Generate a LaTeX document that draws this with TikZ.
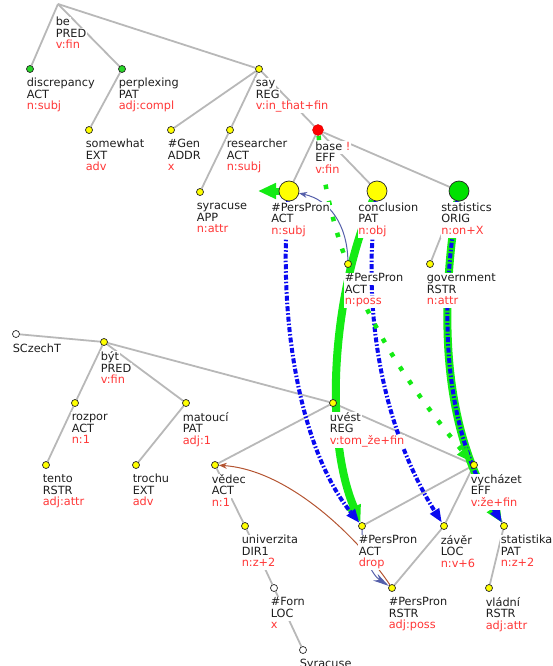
\documentclass[tikz,border=0pt]{standalone}
\usepackage{fontspec}
\setmainfont{DejaVu Sans}
\usetikzlibrary{arrows.meta}

\definecolor{edgegray}{RGB}{184,184,184}
\definecolor{txt}{RGB}{30,30,30}
\definecolor{lred}{RGB}{255,55,55}
\definecolor{nyellow}{RGB}{255,255,0}
\definecolor{ngreen}{RGB}{40,215,40}
\definecolor{bgreen}{RGB}{0,225,0}
\definecolor{agreen}{RGB}{20,235,20}
\definecolor{ablue}{RGB}{10,10,240}
\definecolor{coref}{RGB}{85,95,170}
\definecolor{corefb}{RGB}{180,85,50}

\pgfdeclarelayer{edges}
\pgfdeclarelayer{arrows}
\pgfdeclarelayer{labels}
\pgfsetlayers{edges,arrows,labels,main}

% label font: fixed line pitch, strips may touch
\newcommand\lblfont{\fontsize{11.3}{11.5}\selectfont
  \setlength\lineskiplimit{-20pt}\setlength\lineskip{0pt}}

% one label line on a white strip
\setlength\fboxsep{0.6pt}
\newcommand\tline[1]{\colorbox{white}{\rule[-0.24em]{0pt}{1em}#1}}

% tree node: style, name, position, label offset, lemma, functor, formeme
\newcommand\tnode[7]{%
  \node[#1] (#2) at #3 {};
  \begin{pgfonlayer}{labels}
    \node[lbl] (#2-l) at ([shift={#4}]#2.center)
      {\tline{#5}\\\tline{#6}\\\tline{\textcolor{lred}{#7}}};
  \end{pgfonlayer}}

\tikzset{
  lbl/.style={anchor=north west, inner sep=0pt, align=left,
    font=\lblfont, text=txt},
  dotn/.style={circle, draw=black!85, line width=0.7pt, inner sep=0pt, minimum size=7pt},
  sy/.style={dotn, fill=nyellow},
  sg/.style={dotn, fill=ngreen},
  sw/.style={dotn, fill=white},
  by/.style={dotn, fill=nyellow, minimum size=20pt},
  bg/.style={dotn, fill=bgreen, minimum size=20pt},
  rb/.style={circle, fill=red, draw=red!85!black, line width=0.4pt, inner sep=0pt, minimum size=11pt},
  tedge/.style={draw=edgegray, line width=1.8pt},
  gthick/.style={draw=agreen, line width=8pt, -{Triangle[length=17pt,width=14pt]}},
  gdot/.style={draw=agreen, line width=4.5pt, dash pattern=on 4.5pt off 12pt,
    -{Triangle[length=15pt,width=12pt]}},
  bdash/.style={draw=ablue, line width=4pt, dash pattern=on 5pt off 2pt on 1.5pt off 2pt,
    -{Triangle[length=14pt,width=10pt]}},
  cor/.style={draw=coref, line width=1pt, -{Stealth[length=8pt,width=6pt]}},
  corb/.style={draw=corefb, line width=1pt, -{Stealth[length=8pt,width=6pt]}},
}

\begin{document}
\begin{tikzpicture}[x=1pt, y=-1pt]
\useasboundingbox (0,0) rectangle (552,666);
\clip (0,0) rectangle (552,666);

% ---------- English tree ----------
\coordinate (be) at (58,4);
\begin{pgfonlayer}{labels}
  \node[lbl] (be-l) at (55,16.5)
    {\tline{be}\\\tline{PRED}\\\tline{\textcolor{lred}{v:fin}}};
\end{pgfonlayer}
\tnode{sg}{disc}{(30,69)}{(-4,8.5)}{discrepancy}{ACT}{n:subj}
\tnode{sg}{perp}{(122,69)}{(-4,8.5)}{perplexing}{PAT}{adj:compl}
\tnode{sy}{say}{(259,69)}{(-4,8.5)}{say}{REG}{v:in\_that+fin}
\tnode{sy}{some}{(89,130)}{(-4,8.5)}{somewhat}{EXT}{adv}
\tnode{sy}{gen}{(171,130)}{(-4,8.5)}{\#Gen}{ADDR}{x}
\tnode{sy}{res}{(230,130)}{(-4,8.5)}{researcher}{ACT}{n:subj}
\tnode{sy}{syr}{(200,192)}{(-4,8.5)}{syracuse}{APP}{n:attr}
\tnode{rb}{base}{(318,130)}{(-3.5,11)}{base \textcolor{lred}{!}}{EFF}{v:fin}
\tnode{by}{psA}{(289,191)}{(-18.5,11)}{\#PersPron}{ACT}{n:subj}
\tnode{by}{concl}{(377,191)}{(-19.5,11)}{conclusion}{PAT}{n:obj}
\tnode{bg}{stat}{(459,191)}{(-18.5,11)}{statistics}{ORIG}{n:on+X}
\tnode{sy}{psB}{(348,264)}{(-4,8.5)}{\#PersPron}{ACT}{n:poss}
\tnode{sy}{gov}{(430,264)}{(-4,8.5)}{government}{RSTR}{n:attr}

% ---------- Czech tree ----------
\node[sw] (sct) at (16,334) {};
\begin{pgfonlayer}{labels}
  \node[lbl] (sct-l) at ([shift={(-4,9)}]sct.center) {\tline{SCzechT}};
\end{pgfonlayer}
\tnode{sy}{byt}{(104,342)}{(-4,9)}{být}{PRED}{v:fin}
\tnode{sy}{rozpor}{(75,403)}{(-4,8.5)}{rozpor}{ACT}{n:1}
\tnode{sy}{matouci}{(186,403)}{(-4,8.5)}{matoucí}{PAT}{adj:1}
\tnode{sy}{tento}{(46,465)}{(-4,8.5)}{tento}{RSTR}{adj:attr}
\tnode{sy}{trochu}{(136,465)}{(-4,8.5)}{trochu}{EXT}{adv}
\tnode{sy}{vedec}{(215,465)}{(-4,8.5)}{vědec}{ACT}{n:1}
\tnode{sy}{uvest}{(333,403)}{(-4,8.5)}{uvést}{REG}{v:tom\_že+fin}
\tnode{sy}{vych}{(474,465)}{(-4,8.5)}{vycházet}{EFF}{v:že+fin}
\tnode{sy}{psC}{(362,526)}{(-4,8.5)}{\#PersPron}{ACT}{drop}
\tnode{sy}{zaver}{(444,526)}{(-4,8.5)}{závěr}{LOC}{n:v+6}
\tnode{sy}{stka}{(504,526)}{(-4,8.5)}{statistika}{PAT}{n:z+2}
\tnode{sy}{univ}{(245,526)}{(-4,8.5)}{univerzita}{DIR1}{n:z+2}
\tnode{sw}{forn}{(274,588)}{(-4,8.5)}{\#Forn}{LOC}{x}
\tnode{sy}{psD}{(392,588)}{(-4,8.5)}{\#PersPron}{RSTR}{adj:poss}
\tnode{sy}{vlad}{(489,588)}{(-4,8.5)}{vládní}{RSTR}{adj:attr}
\node[sw] (syrc) at (303,650) {};
\begin{pgfonlayer}{labels}
  \node[lbl] (syrc-l) at ([shift={(-4,8.5)}]syrc.center) {\tline{Syracuse}};
\end{pgfonlayer}

% ---------- tree edges ----------
\begin{pgfonlayer}{edges}
  \draw[tedge] (be) -- (disc);
  \draw[tedge] (be) -- (perp);
  \draw[tedge] (be) -- (say);
  \draw[tedge] (perp) -- (some);
  \draw[tedge] (say) -- (gen);
  \draw[tedge] (say) -- (res);
  \draw[tedge] (say) -- (base);
  \draw[tedge] (res) -- (syr);
  \draw[tedge] (base) -- (psA);
  \draw[tedge] (base) -- (concl);
  \draw[tedge] (base) -- (stat);
  \draw[tedge] (concl) -- (psB);
  \draw[tedge] (stat) -- (gov);

  \draw[tedge] (sct) -- (byt);
  \draw[tedge] (byt) -- (rozpor);
  \draw[tedge] (byt) -- (matouci);
  \draw[tedge] (byt) -- (uvest);
  \draw[tedge] (rozpor) -- (tento);
  \draw[tedge] (matouci) -- (trochu);
  \draw[tedge] (uvest) -- (vedec);
  \draw[tedge] (uvest) -- (vych);
  \draw[tedge] (vych) -- (psC);
  \draw[tedge] (vych) -- (zaver);
  \draw[tedge] (vych) -- (stka);
  \draw[tedge] (zaver) -- (psD);
  \draw[tedge] (stka) -- (vlad);
  \draw[tedge] (vedec) -- (univ);
  \draw[tedge] (univ) -- (forn);
  \draw[tedge] (forn) -- (syrc);
\end{pgfonlayer}

% ---------- alignment and coreference arrows ----------
\coordinate (gtip) at (258,191);
\begin{pgfonlayer}{arrows}
  \draw[gthick] (concl) .. controls (330,300) and (325,440) .. (psC);
  \draw[gthick] (stat) .. controls (438,320) and (445,430) .. (stka);
  \draw[bdash] (stat) .. controls (438,320) and (445,430) .. (stka);
  \draw[bdash] (psA) .. controls (278,320) and (300,450) .. (psC);
  \draw[bdash] (concl) .. controls (360,330) and (390,440) .. (zaver);
  \draw[gdot] (base) .. controls (330,250) and (370,340) .. (vych);
  \draw[draw=agreen, line width=7pt, -{Triangle[length=18pt,width=15pt]}] (psA.center) -- (gtip);
  \draw[cor] (psB) .. controls (347,225) and (330,200) .. (psA);
  \draw[cor, -{Stealth[length=16pt,width=8pt]}] (psC) .. controls (362,555) and (372,575) .. (psD);
  \draw[corb] (psD) .. controls (360,540) and (290,470) .. (vedec);
\end{pgfonlayer}
\end{tikzpicture}
\end{document}
